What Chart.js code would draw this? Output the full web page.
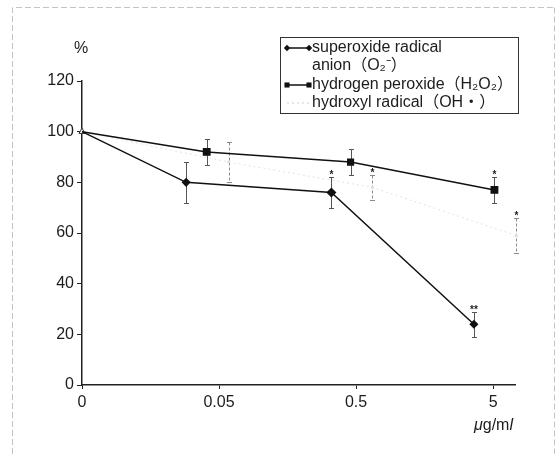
<!DOCTYPE html>
<html>
<head>
<meta charset="utf-8">
<script src="https://cdn.jsdelivr.net/npm/chart.js@4/dist/chart.umd.min.js"></script>
<style>
  html, body { margin: 0; padding: 0; background: #fff; }
</style>
</head>
<body>
<canvas id="chart" width="557" height="454"></canvas>
<script>
// x positions are in tick units of the log-spaced dose axis: 0 -> "0", 1 -> "0.05", 2 -> "0.5", 3 -> "5"
const xTickLabels = ["0", "0.05", "0.5", "5"];

const superoxideX = [0, 0.76, 1.82, 2.86];
const superoxideY = [100, 80, 76, 24];
const superoxideErr = [0, 8, 6, 5];
const superoxideSig = ["", "", "*", "**"];

const peroxideX = [0, 0.91, 1.96, 3.01];
const peroxideY = [100, 92, 88, 77];
const peroxideErr = [0, 5, 5, 5];
const peroxideSig = ["", "", "", "*"];

const hydroxylX = [0, 1.07, 2.12, 3.17];
const hydroxylY = [100, 88, 78, 59];
const hydroxylErr = [0, 8, 5, 7];
const hydroxylSig = ["", "", "*", "*"];

const FONT = '"Liberation Sans", Arial, "Noto Sans CJK JP", sans-serif';
const INK = "#1c1c1c";

const toPoints = (xs, ys) => xs.map((x, i) => ({ x: x, y: ys[i] }));

// error bars under the lines, significance marks above the caps
const errorBars = {
  id: "errorBars",
  beforeDatasetsDraw(chart) {
    const { ctx, scales } = chart;
    chart.data.datasets.forEach((ds) => {
      ctx.save();
      ctx.strokeStyle = ds.errorColor;
      ctx.lineWidth = 1;
      ds.data.forEach((p, i) => {
        const err = ds.errors[i];
        if (!err) return;
        const x = Math.round(scales.x.getPixelForValue(p.x)) + 0.5;
        const yTop = Math.round(scales.y.getPixelForValue(p.y + err)) + 0.5;
        const yBot = Math.round(scales.y.getPixelForValue(p.y - err)) + 0.5;
        ctx.setLineDash(ds.errorDash || []);
        ctx.beginPath();
        ctx.moveTo(x, yTop);
        ctx.lineTo(x, yBot);
        ctx.stroke();
        ctx.setLineDash([]);
        ctx.beginPath();
        ctx.moveTo(x - 2.5, yTop);
        ctx.lineTo(x + 2.5, yTop);
        ctx.moveTo(x - 2.5, yBot);
        ctx.lineTo(x + 2.5, yBot);
        ctx.stroke();
      });
      ctx.restore();
    });
  },
  afterDatasetsDraw(chart) {
    const { ctx, scales } = chart;
    ctx.save();
    ctx.fillStyle = INK;
    ctx.font = "bold 10px " + FONT;
    ctx.textAlign = "center";
    ctx.textBaseline = "alphabetic";
    chart.data.datasets.forEach((ds) => {
      ds.data.forEach((p, i) => {
        const mark = ds.marks[i];
        if (!mark) return;
        const x = scales.x.getPixelForValue(p.x);
        const yTop = scales.y.getPixelForValue(p.y + ds.errors[i]);
        ctx.fillText(mark, x, yTop + 1);
      });
    });
    ctx.restore();
  },
};

// frame, axis captions and the boxed legend
const decorations = {
  id: "decorations",
  afterDraw(chart) {
    const { ctx } = chart;
    ctx.save();

    ctx.strokeStyle = "#c4c4c4";
    ctx.lineWidth = 1;
    ctx.setLineDash([6, 3]);
    ctx.beginPath();
    ctx.moveTo(12.5, 454);
    ctx.lineTo(12.5, 7.5);
    ctx.lineTo(553.5, 7.5);
    ctx.moveTo(554.5, 7.5);
    ctx.lineTo(554.5, 454);
    ctx.stroke();
    ctx.setLineDash([]);

    ctx.fillStyle = INK;
    ctx.font = "16px " + FONT;
    ctx.textAlign = "center";
    ctx.textBaseline = "middle";
    ctx.fillText("%", 81, 49);

    // unit caption with italic mu and l
    ctx.textAlign = "left";
    let ux = 474;
    const parts = [["italic ", "μ"], ["", "g/m"], ["italic ", "l"]];
    parts.forEach(([style, t]) => {
      ctx.font = style + "16px " + FONT;
      ctx.fillText(t, ux, 426);
      ux += ctx.measureText(t).width;
    });

    // legend
    const bx = 280.5, by = 37.5, bw = 238, bh = 76;
    ctx.strokeStyle = "#333";
    ctx.lineWidth = 1;
    ctx.strokeRect(bx, by, bw, bh);

    const rows = [
      { ds: 0, y: 48, text: chart.data.datasets[0].legendLines[0] },
      { ds: null, y: 66, text: chart.data.datasets[0].legendLines[1] },
      { ds: 1, y: 85, text: chart.data.datasets[1].legendLines[0] },
      { ds: 2, y: 103, text: chart.data.datasets[2].legendLines[0] },
    ];
    rows.forEach((r) => {
      if (r.ds !== null) {
        const ds = chart.data.datasets[r.ds];
        ctx.save();
        ctx.strokeStyle = ds.legendLine || ds.borderColor;
        ctx.lineWidth = ds.borderWidth;
        ctx.setLineDash(ds.borderDash || []);
        ctx.beginPath();
        ctx.moveTo(287, r.y);
        ctx.lineTo(309, r.y);
        ctx.stroke();
        ctx.restore();
        if (ds.legendMarker) {
          const style = { pointStyle: ds.pointStyle, radius: ds.legendMarker, rotation: 0 };
          ctx.fillStyle = ds.borderColor;
          ctx.strokeStyle = ds.borderColor;
          Chart.helpers.drawPoint(ctx, style, 287, r.y);
          Chart.helpers.drawPoint(ctx, style, 309, r.y);
        }
      }
      ctx.fillStyle = INK;
      ctx.font = "16px " + FONT;
      ctx.textAlign = "left";
      ctx.textBaseline = "middle";
      ctx.fillText(r.text, 312, r.y);
    });

    ctx.restore();
  },
};

new Chart(document.getElementById("chart"), {
  type: "line",
  data: {
    datasets: [
      {
        label: "superoxide radical anion（O₂⁻）",
        legendLines: ["superoxide radical", "anion（O₂⁻）"],
        data: toPoints(superoxideX, superoxideY),
        errors: superoxideErr,
        marks: superoxideSig,
        errorColor: "#555",
        borderColor: "#111",
        borderWidth: 1.5,
        pointStyle: "rectRot",
        pointRadius: [0, 3.5, 4, 3.5],
        pointBackgroundColor: "#111",
        pointBorderColor: "#111",
        legendMarker: 3.2,
        clip: false,
      },
      {
        label: "hydrogen peroxide（H₂O₂）",
        legendLines: ["hydrogen peroxide（H₂O₂）"],
        data: toPoints(peroxideX, peroxideY),
        errors: peroxideErr,
        marks: peroxideSig,
        errorColor: "#555",
        borderColor: "#111",
        borderWidth: 1.5,
        pointStyle: "rect",
        pointRadius: [0, 4.5, 4, 4.5],
        pointBackgroundColor: "#111",
        pointBorderColor: "#111",
        legendMarker: 3.6,
        clip: false,
      },
      {
        label: "hydroxyl radical（OH・）",
        legendLines: ["hydroxyl radical（OH・）"],
        data: toPoints(hydroxylX, hydroxylY),
        errors: hydroxylErr,
        marks: hydroxylSig,
        errorColor: "#8a8a8a",
        errorDash: [3, 2],
        borderColor: "#e2e2e2",
        legendLine: "#cfcfcf",
        borderWidth: 1,
        borderDash: [2, 3],
        pointStyle: "triangle",
        pointRadius: [3.5, 1.5, 1.5, 1.5],
        pointBackgroundColor: "#fff",
        pointBorderColor: ["#333", "#d8d8d8", "#d8d8d8", "#d8d8d8"],
        pointBorderWidth: 1,
        legendMarker: 0,
        clip: false,
      },
    ],
  },
  options: {
    responsive: false,
    animation: false,
    events: [],
    layout: { padding: { top: 81, right: 42, left: 0, bottom: 0 } },
    plugins: {
      legend: { display: false },
      tooltip: { enabled: false },
    },
    scales: {
      x: {
        type: "linear",
        min: 0,
        max: 3.16,
        afterBuildTicks: (scale) => {
          scale.ticks = xTickLabels.map((_, i) => ({ value: i }));
        },
        afterFit: (scale) => {
          scale.height = 69;
        },
        ticks: {
          color: INK,
          font: { family: FONT, size: 16 },
          padding: 4,
          maxRotation: 0,
          callback: (value) => xTickLabels[value],
        },
        grid: { drawOnChartArea: false, drawTicks: true, tickLength: 4, color: "#222" },
        border: { color: "#222", width: 1.5 },
      },
      y: {
        min: 0,
        max: 120,
        afterFit: (scale) => {
          scale.width = 82;
        },
        ticks: {
          stepSize: 20,
          color: INK,
          font: { family: FONT, size: 16 },
          padding: 3,
        },
        grid: { drawOnChartArea: false, drawTicks: true, tickLength: 5, color: "#222" },
        border: { color: "#222", width: 1.5 },
      },
    },
  },
  plugins: [errorBars, decorations],
});
</script>
</body>
</html>
